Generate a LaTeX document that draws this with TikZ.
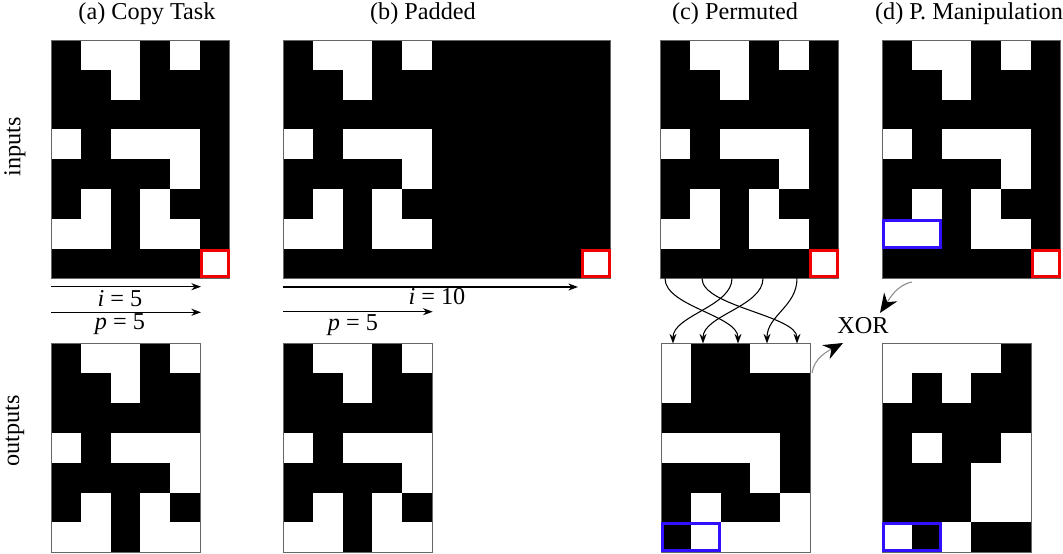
\documentclass[tikz,border=0pt]{standalone}
\usepackage{fontspec}
\setmainfont{Liberation Serif}
\usetikzlibrary{arrows.meta}
\tikzset{>=stealth}
\definecolor{markblue}{RGB}{48,16,255}
\definecolor{markred}{RGB}{240,0,0}
\newcommand{\cellsz}{29.8}
\newcommand{\bitgrid}[5]{%
  \fill[black] (#1,#2) rectangle ++({#3*\cellsz},{#4*\cellsz});
  \foreach \bits [count=\rw from 0] in #5 {
    \foreach \bt [count=\cl from 0] in \bits {
      \ifnum\bt=1 \fill[white] ({#1+\cl*\cellsz},{#2+\rw*\cellsz}) rectangle ++(\cellsz,\cellsz);\fi
    }
  }
  \draw[gridframe] (#1,#2) rectangle ++({#3*\cellsz},{#4*\cellsz});
}
\newcommand{\markcell}[6]{%
  \draw[#1, line width=1.7pt] ({#2+#4*\cellsz+1.5},{#3+#5*\cellsz+1.5}) rectangle ++({#6*\cellsz-3},{\cellsz-3});
}
\def\inbits{{0,1,1,0,1,0},{0,0,1,0,0,0},{0,0,0,0,0,0},{1,0,1,1,1,0},{0,0,0,0,1,0},{0,1,0,1,0,0},{1,1,0,1,1,0},{0,0,0,0,0,1}}
\def\padbits{{0,1,1,0,1},{0,0,1,0,0},{0,0,0,0,0},{1,0,1,1,1},{0,0,0,0,1},{0,1,0,1,0},{1,1,0,1,1},{0,0,0,0,0,0,0,0,0,0,1}}
\def\outbits{{0,1,1,0,1},{0,0,1,0,0},{0,0,0,0,0},{1,0,1,1,1},{0,0,0,0,1},{0,1,0,1,0},{1,1,0,1,1}}
\def\permbits{{1,0,0,1,1},{1,0,0,0,0},{0,0,0,0,0},{1,1,1,1,0},{0,0,0,1,0},{0,1,0,0,1},{0,1,1,1,1}}
\def\xorbits{{1,1,1,1,0},{1,0,1,0,0},{0,0,0,0,0},{0,1,0,0,1},{0,0,0,1,1},{0,0,0,1,1},{1,0,1,0,0}}

\begin{document}
\begin{tikzpicture}[x=0.02cm, y=-0.02cm, font=\fontsize{13.8}{16}\selectfont,
  gridframe/.style={draw=black!60, line width=0.5pt},
  steparrow/.style={-{Stealth[length=5.5pt, width=4pt]}, line width=0.6pt},
  xorarrow/.style={draw=black!45, line width=0.6pt, -{Stealth[black, length=11pt, width=9pt]}}]
\useasboundingbox (0,0) rectangle (1063,554);
\node at (147,19.5) (ta) [anchor = base] {(a) Copy Task};
\node at (423,19.5) (tb) [anchor = base] {(b) Padded};
\node at (735,19.5) (tc) [anchor = base] {(c) Permuted};
\node at (969,19.5) (td) [anchor = base] {(d) P. Manipulation};
\node at (15,147) (lin) [rotate = 90] {inputs};
\node at (15,431) (lout) [rotate = 90] {outputs};
\bitgrid{51}{40}{6}{8}{\inbits}
\bitgrid{283}{40}{11}{8}{\padbits}
\bitgrid{660}{40}{6}{8}{\inbits}
\bitgrid{882}{40}{6}{8}{\inbits}
\bitgrid{51}{343.5}{5}{7}{\outbits}
\bitgrid{283}{343.5}{5}{7}{\outbits}
\bitgrid{661}{343.5}{5}{7}{\permbits}
\bitgrid{882}{343.5}{5}{7}{\xorbits}
\markcell{markred}{51}{40}{5}{7}{1}
\markcell{markred}{283}{40}{10}{7}{1}
\markcell{markred}{660}{40}{5}{7}{1}
\markcell{markred}{882}{40}{5}{7}{1}
\markcell{markblue}{882}{40}{0}{6}{2}
\markcell{markblue}{661}{343.5}{0}{6}{2}
\markcell{markblue}{882}{343.5}{0}{6}{2}
\coordinate (ia0) at (51,286.7);
\coordinate (ia1) at (201,286.7);
\coordinate (pa0) at (51,312.3);
\coordinate (pa1) at (201,312.3);
\coordinate (ib0) at (283,287);
\coordinate (ib1) at (578,287);
\coordinate (pb0) at (283,311.7);
\coordinate (pb1) at (432.7,311.7);
\draw [steparrow] (ia0) -- (ia1);
\draw [steparrow] (pa0) -- (pa1);
\draw [steparrow] (ib0) -- (ib1);
\draw [steparrow] (pb0) -- (pb1);
\node at (120,307) (li5) [anchor = base] {\textit{i} = 5};
\node at (120,330) (lpa) [anchor = base] {\textit{p} = 5};
\node at (437,305) (li10) [anchor = base] {\textit{i} = 10};
\node at (353,330.5) (lpb) [anchor = base] {\textit{p} = 5};
\foreach \cl/\x in {0/665, 1/702, 2/732, 3/763, 4/797}
  \coordinate (ps\cl) at (\x,278.4);
\foreach \cl/\x in {0/673, 1/703, 2/738, 3/767, 4/797}
  \coordinate (pt\cl) at (\x,343.5);
\foreach \s/\t in {0/2, 1/4, 2/0, 3/1, 4/3}
  \draw [steparrow] (ps\s) .. controls +(0,28) and +(0,-28) .. (pt\t);
\node at (863,333.3) (xor) [anchor = base] {XOR};
\coordinate (xd) at (912,282);
\coordinate (xe) at (880,313);
\coordinate (xc) at (812,373);
\coordinate (xf) at (843,343);
\draw [xorarrow] (xd) .. controls +(-15,3) and +(10,-15) .. (xe);
\draw [xorarrow] (xc) .. controls +(2,-15) and +(-15,8) .. (xf);
\end{tikzpicture}
\end{document}
